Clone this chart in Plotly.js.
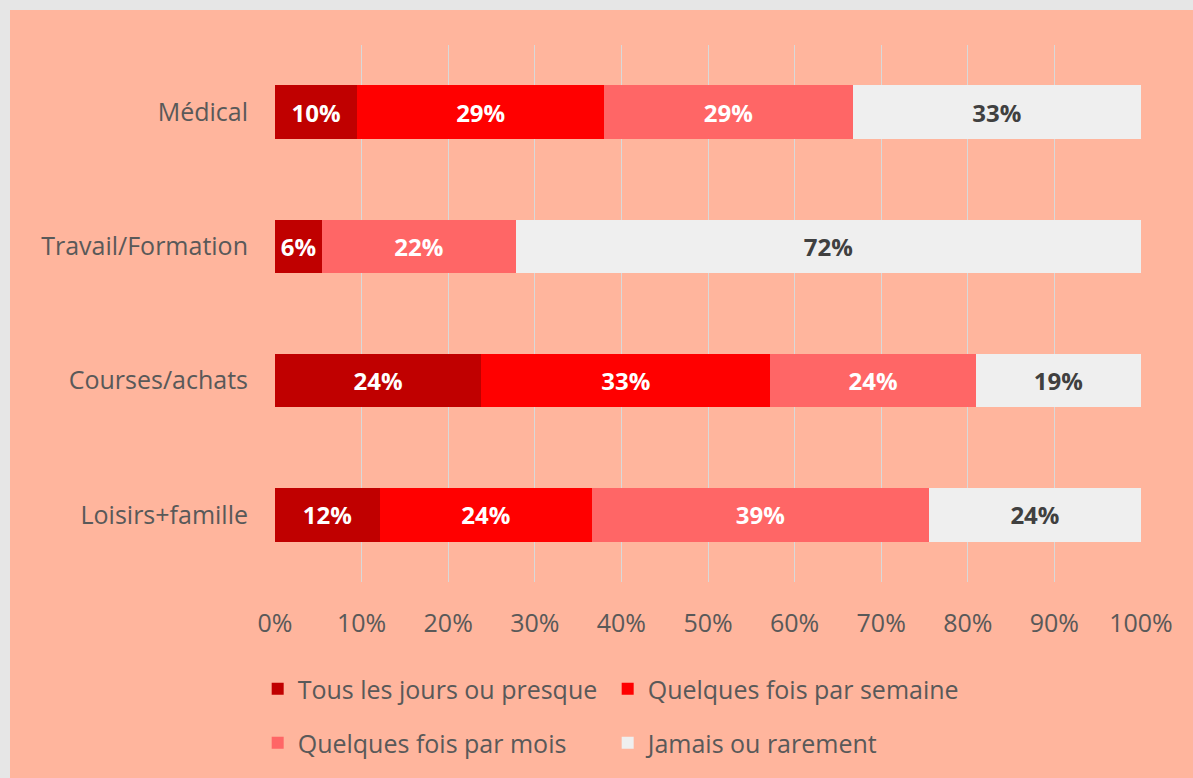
<!DOCTYPE html>
<html>
<head>
<meta charset="utf-8">
<script src="https://cdn.plot.ly/plotly-3.0.1.min.js"></script>
<style>
  html, body { margin: 0; padding: 0; background: #e6e6e6; }
  #wrap { position: absolute; left: 10px; top: 10px; width: 1183px; height: 768px; background: #FFB59D; }
  #chart { width: 1183px; height: 768px; }
</style>
</head>
<body>
<div id="wrap"><div id="chart"></div></div>
<script>
const categories = ["Médical", "Travail/Formation", "Courses/achats", "Loisirs+famille"];
const seriesNames = ["Tous les jours ou presque", "Quelques fois par semaine", "Quelques fois par mois", "Jamais ou rarement"];
const tousLesJours = [9.5, 5.4, 23.8, 12.1];
const parSemaine = [28.5, 0, 33.4, 24.5];
const parMois = [28.7, 22.4, 23.7, 38.9];
const jamais = [33.3, 72.2, 19.1, 24.5];
const labelsTous = ["10%", "6%", "24%", "12%"];
const labelsSemaine = ["29%", "", "33%", "24%"];
const labelsMois = ["29%", "22%", "24%", "39%"];
const labelsJamais = ["33%", "72%", "19%", "24%"];
const colors = ["#C00000", "#FF0000", "#FF6666", "#EFEFEF"];
const textColors = ["#ffffff", "#ffffff", "#ffffff", "#404040"];

const FONT = "'Open Sans', sans-serif";
const values = [tousLesJours, parSemaine, parMois, jamais];
const labels = [labelsTous, labelsSemaine, labelsMois, labelsJamais];
const legendIds = ["legend", "legend2", "legend3", "legend4"];

const traces = values.map((v, i) => ({
  type: "bar",
  orientation: "h",
  name: seriesNames[i],
  y: categories,
  x: v,
  text: labels[i],
  textposition: "inside",
  insidetextanchor: "middle",
  textangle: 0,
  texttemplate: "%{text}",
  textfont: { family: FONT, size: 24, color: textColors[i], weight: "bold" },
  marker: { color: colors[i], line: { width: 0 } },
  hoverinfo: "x+y+name",
  legend: legendIds[i],
  cliponaxis: false
}));

function makeLegend(x, yPix) {
  return {
    orientation: "h",
    xref: "paper",
    x: x,
    xanchor: "left",
    yref: "container",
    y: 1 - yPix / 768,
    yanchor: "middle",
    bgcolor: "rgba(0,0,0,0)",
    font: { family: FONT, size: 25, color: "#595959" }
  };
}

const col1 = -0.02;
const col2 = -0.02 + 350 / 866;

const layout = {
  width: 1183,
  height: 768,
  margin: { l: 265, r: 52, t: 35, b: 196 },
  paper_bgcolor: "#FFB59D",
  plot_bgcolor: "#FFB59D",
  barmode: "stack",
  bargap: 0.6,
  showlegend: true,
  font: { family: FONT, color: "#595959" },
  xaxis: {
    range: [0, 100],
    dtick: 10,
    tick0: 0,
    ticksuffix: "%",
    showgrid: true,
    gridcolor: "#D9D9D9",
    gridwidth: 1,
    zeroline: false,
    showline: false,
    ticks: "",
    ticklabelstandoff: 24,
    tickfont: { family: FONT, size: 25, color: "#595959" },
    fixedrange: true
  },
  yaxis: {
    autorange: "reversed",
    showgrid: false,
    zeroline: false,
    ticks: "",
    ticklabelstandoff: 26,
    tickfont: { family: FONT, size: 25, color: "#595959" },
    fixedrange: true
  },
  legend: makeLegend(col1, 679),
  legend2: makeLegend(col2, 679),
  legend3: makeLegend(col1, 733),
  legend4: makeLegend(col2, 733)
};

Plotly.newPlot("chart", traces, layout, { displayModeBar: false });
</script>
</body>
</html>
